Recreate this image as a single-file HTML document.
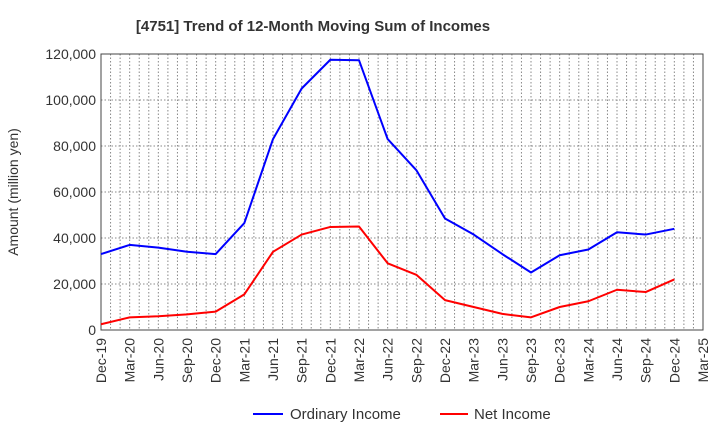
<!DOCTYPE html>
<html><head><meta charset="utf-8"><style>
body{margin:0;background:#fff;font-family:"Liberation Sans",sans-serif;}
svg text{font-family:"Liberation Sans",sans-serif;fill:#333;}
</style></head><body>
<svg id="c" width="720" height="440" xmlns="http://www.w3.org/2000/svg">
<text x="313" y="31" text-anchor="middle" font-size="15" font-weight="bold">[4751]  Trend of 12-Month Moving Sum of Incomes</text>
<text transform="translate(18,192) rotate(-90)" text-anchor="middle" font-size="14">Amount (million yen)</text>
<g id="grid"></g><g id="axes"></g><g id="series"></g>
<g>
<line x1="253" y1="414" x2="283" y2="414" stroke="#0000ff" stroke-width="2"/>
<text x="290" y="419" font-size="15">Ordinary Income</text>
<line x1="440" y1="414" x2="468" y2="414" stroke="#ff0000" stroke-width="2"/>
<text x="474" y="419" font-size="15">Net Income</text>
</g>
</svg>
<script>
const categories=["Dec-19","Mar-20","Jun-20","Sep-20","Dec-20","Mar-21","Jun-21","Sep-21","Dec-21","Mar-22","Jun-22","Sep-22","Dec-22","Mar-23","Jun-23","Sep-23","Dec-23","Mar-24","Jun-24","Sep-24","Dec-24","Mar-25"];
const ordinaryIncome=[33000,37000,35800,34000,33000,46500,83000,105000,117500,117300,83000,69500,48500,41500,33000,25000,32500,35000,42500,41500,44000];
const netIncome=[2500,5500,6000,6800,8000,15500,34000,41500,44800,45000,29000,24000,13000,10000,7000,5500,10000,12500,17500,16500,22000];
const yTicks=[0,20000,40000,60000,80000,100000,120000];
const NS="http://www.w3.org/2000/svg";
const L=101,R=703,T=54,B=330,yMax=120000;
const x=i=>L+(R-L)*i/(categories.length-1);
const y=v=>B-(B-T)*v/yMax;
function mk(t,a,p){const e=document.createElementNS(NS,t);for(const k in a)e.setAttribute(k,a[k]);p.appendChild(e);return e;}
const grid=document.getElementById('grid'),axes=document.getElementById('axes'),ser=document.getElementById('series');
const nM=(categories.length-1)*3;
for(let m=1;m<nM;m++){const xx=L+(R-L)*m/nM;
 const g=mk('line',{x1:xx,x2:xx,y1:T,y2:B,stroke:'#888','stroke-width':1,'stroke-dasharray':'1.5,2'},grid);
 
 }
yTicks.forEach(v=>{
 if(v>0&&v<yMax){const g=mk('line',{x1:L,x2:R,y1:y(v),y2:y(v),stroke:'#888','stroke-width':1,'stroke-dasharray':'1.5,2'},grid);
 
 }
 const t=mk('text',{x:L-5,y:y(v)+5,'text-anchor':'end','font-size':14},axes);t.textContent=v.toLocaleString('en-US');
 
 
});
const fr=mk('rect',{x:L,y:T,width:R-L,height:B-T,fill:'none',stroke:'#444','stroke-width':1},axes);


categories.forEach((c,i)=>{const t=mk('text',{transform:`translate(${x(i)+5},${B+8}) rotate(-90)`,'text-anchor':'end','font-size':14},axes);t.textContent=c;
 
 });
function line(d,col,name){const p=mk('polyline',{points:d.map((v,i)=>x(i)+','+y(v)).join(' '),fill:'none',stroke:col,'stroke-width':2,'stroke-linejoin':'round'},ser);
 
 }
line(ordinaryIncome,'#0000ff','ordinary-income-line');
line(netIncome,'#ff0000','net-income-line');
</script>
</body></html>
